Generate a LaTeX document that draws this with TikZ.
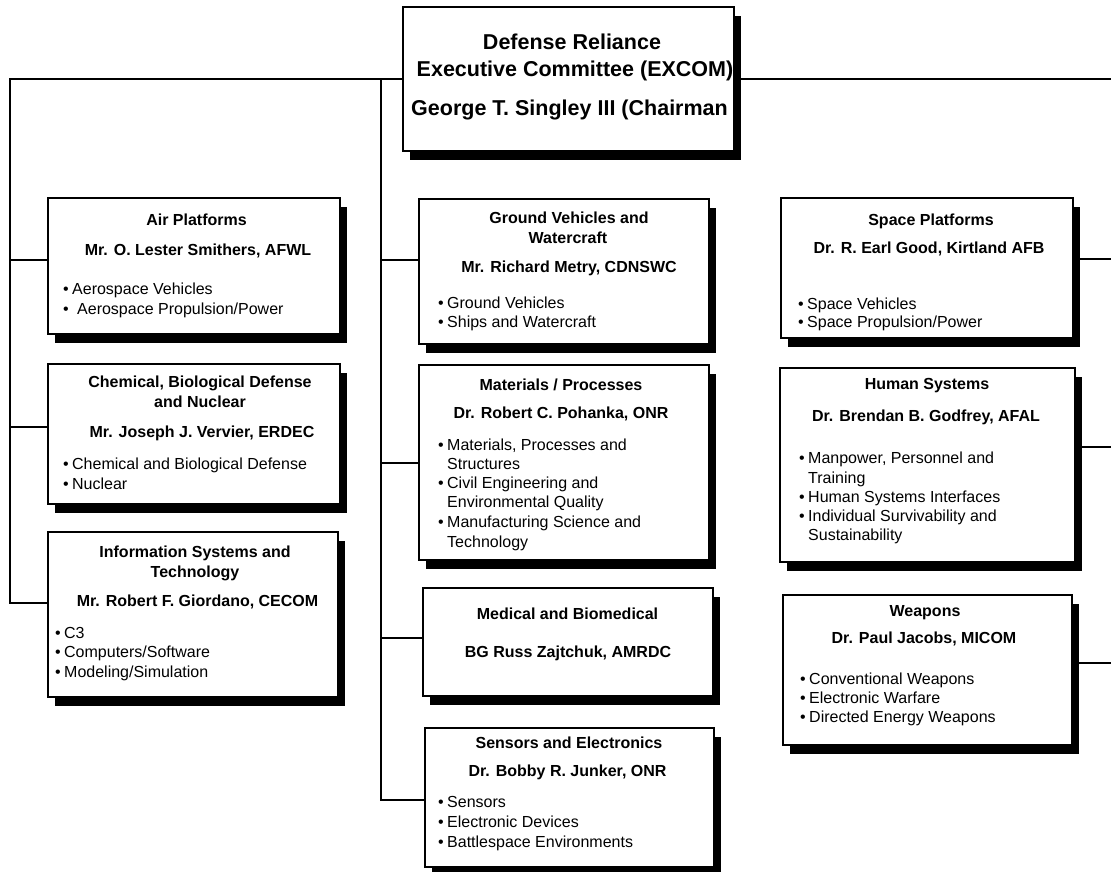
\documentclass[tikz,border=0pt]{standalone}
\usepackage{fontspec}
\setmainfont{Liberation Sans}

\tikzset{
  orgbox/.style={draw=black, line width=2pt, fill=white, inner sep=0pt, outer sep=0pt, anchor=north west},
  link/.style={line width=2pt},
  title/.style={font=\bfseries\fontsize{21.5}{26}\selectfont, anchor=base, inner sep=0pt},
  hd/.style={font=\bfseries\fontsize{16}{19}\selectfont, anchor=base, inner sep=0pt},
  bl/.style={font=\fontsize{16}{19}\selectfont, anchor=base west, inner sep=0pt},
}

% box with a solid drop shadow: name, x, y, width, height
\newcommand\orgunit[5]{%
  \fill[black] (#2+7,#3+9) rectangle ++(#4,#5);
  \node[orgbox, minimum width=#4pt, minimum height=#5pt] (#1) at (#2,#3) {};
}
% bulleted line: name, x, y, text
\newcommand\bitem[4]{\node[bl] (#1) at (#2,#3) {\makebox[9pt][l]{\textbullet}#4};}
% continuation of a bulleted line
\newcommand\bcont[4]{\node[bl] (#1) at (#2,#3) {\hspace*{9pt}#4};}

\begin{document}
\begin{tikzpicture}[x=1pt,y=-1pt]
\useasboundingbox[fill=white] (0,0) rectangle (1111,871);

% ---------- boxes ----------
\orgunit{excom}{403}{7}{331}{144}
\orgunit{air}{48}{198}{292}{136}
\orgunit{chem}{48}{364}{292}{140}
\orgunit{info}{48}{532}{290}{165}
\orgunit{ground}{419}{199}{290}{145}
\orgunit{mat}{419}{365}{290}{195}
\orgunit{med}{423}{588}{290}{108}
\orgunit{sens}{425}{728}{289}{139}
\orgunit{space}{781}{198}{292}{140}
\orgunit{human}{780}{368}{295}{194}
\orgunit{weap}{783}{595}{289}{150}

% ---------- connectors ----------
\coordinate (lbus) at (10,0);
\coordinate (mbus) at (381,0);
\coordinate (rbus) at (1111,0);

\coordinate (airC) at ([yshift=6pt]air.west);
\coordinate (chemC) at ([yshift=7pt]chem.west);
\coordinate (infoC) at ([yshift=11.5pt]info.west);
\coordinate (groundC) at ([yshift=11.5pt]ground.west);
\coordinate (matC) at (mat.west);
\coordinate (medC) at ([yshift=4pt]med.west);
\coordinate (sensC) at ([yshift=-2.5pt]sens.west);
\coordinate (spaceC) at ([yshift=9pt]space.east);
\coordinate (humanC) at ([yshift=18pt]human.east);
\coordinate (weapC) at ([yshift=7pt]weap.east);

\draw[link] (excom.west) -- (excom.west -| lbus) -- (lbus |- infoC) -- (infoC);
\draw[link] (airC) -- (airC -| lbus);
\draw[link] (chemC) -- (chemC -| lbus);

\draw[link] (excom.west -| mbus) -- (mbus |- sensC) -- (sensC);
\draw[link] (groundC) -- (groundC -| mbus);
\draw[link] (matC) -- (matC -| mbus);
\draw[link] (medC) -- (medC -| mbus);

\draw[link] (excom.east) -- (excom.east -| rbus);
\draw[link] (spaceC) -- (spaceC -| rbus);
\draw[link] (humanC) -- (humanC -| rbus);
\draw[link] (weapC) -- (weapC -| rbus);

% ---------- executive committee ----------
\node[title] (excom1) at (572,49) {Defense Reliance};
\node[title] (excom2) at (575,76) {Executive Committee (EXCOM)};
\node[title] (excom3) at (569.5,115) {George T. Singley III (Chairman};

% ---------- left column ----------
\node[hd] (air1) at (196.5,225) {Air Platforms};
\node[hd] (air2) at (198,255) {Mr. O. Lester Smithers, AFWL};
\bitem{air3}{63}{294}{Aerospace Vehicles}
\node[bl] (air4) at (63,314) {\makebox[14pt][l]{\textbullet}Aerospace Propulsion/Power};

\node[hd] (chem1) at (200,387) {Chemical, Biological Defense};
\node[hd] (chem2) at (200,407) {and Nuclear};
\node[hd] (chem3) at (202,437) {Mr. Joseph J. Vervier, ERDEC};
\bitem{chem4}{63}{469}{Chemical and Biological Defense}
\bitem{chem5}{63}{489}{Nuclear}

\node[hd] (info1) at (195,557) {Information Systems and};
\node[hd] (info2) at (195,577) {Technology};
\node[hd] (info3) at (197.5,606) {Mr. Robert F. Giordano, CECOM};
\bitem{info4}{55}{638}{C3}
\bitem{info5}{55}{657}{Computers/Software}
\bitem{info6}{55}{677}{Modeling/Simulation}

% ---------- middle column ----------
\node[hd] (ground1) at (569,223) {Ground Vehicles and};
\node[hd] (ground2) at (568,243) {Watercraft};
\node[hd] (ground3) at (569,272) {Mr. Richard Metry, CDNSWC};
\bitem{ground4}{438}{308}{Ground Vehicles}
\bitem{ground5}{438}{327}{Ships and Watercraft}

\node[hd] (mat1) at (561,390) {Materials / Processes};
\node[hd] (mat2) at (561,418) {Dr. Robert C. Pohanka, ONR};
\bitem{mat3}{438}{450}{Materials, Processes and}
\bcont{mat4}{438}{469}{Structures}
\bitem{mat5}{438}{488}{Civil Engineering and}
\bcont{mat6}{438}{507}{Environmental Quality}
\bitem{mat7}{438}{527}{Manufacturing Science and}
\bcont{mat8}{438}{547}{Technology}

\node[hd] (med1) at (567.5,619) {Medical and Biomedical};
\node[hd] (med2) at (568,657) {BG Russ Zajtchuk, AMRDC};

\node[hd] (sens1) at (569,748) {Sensors and Electronics};
\node[hd] (sens2) at (567.5,776) {Dr. Bobby R. Junker, ONR};
\bitem{sens3}{438}{807}{Sensors}
\bitem{sens4}{438}{827}{Electronic Devices}
\bitem{sens5}{438}{847}{Battlespace Environments}

% ---------- right column ----------
\node[hd] (space1) at (931,225) {Space Platforms};
\node[hd] (space2) at (929,253) {Dr. R. Earl Good, Kirtland AFB};
\bitem{space3}{798}{309}{Space Vehicles}
\bitem{space4}{798}{327}{Space Propulsion/Power}

\node[hd] (human1) at (927,389) {Human Systems};
\node[hd] (human2) at (926,421) {Dr. Brendan B. Godfrey, AFAL};
\bitem{human3}{799}{463}{Manpower, Personnel and}
\bcont{human4}{799}{483}{Training}
\bitem{human5}{799}{502}{Human Systems Interfaces}
\bitem{human6}{799}{521}{Individual Survivability and}
\bcont{human7}{799}{540}{Sustainability}

\node[hd] (weap1) at (925,616) {Weapons};
\node[hd] (weap2) at (924,643) {Dr. Paul Jacobs, MICOM};
\bitem{weap3}{800}{684}{Conventional Weapons}
\bitem{weap4}{800}{703}{Electronic Warfare}
\bitem{weap5}{800}{722}{Directed Energy Weapons}
\end{tikzpicture}
\end{document}
